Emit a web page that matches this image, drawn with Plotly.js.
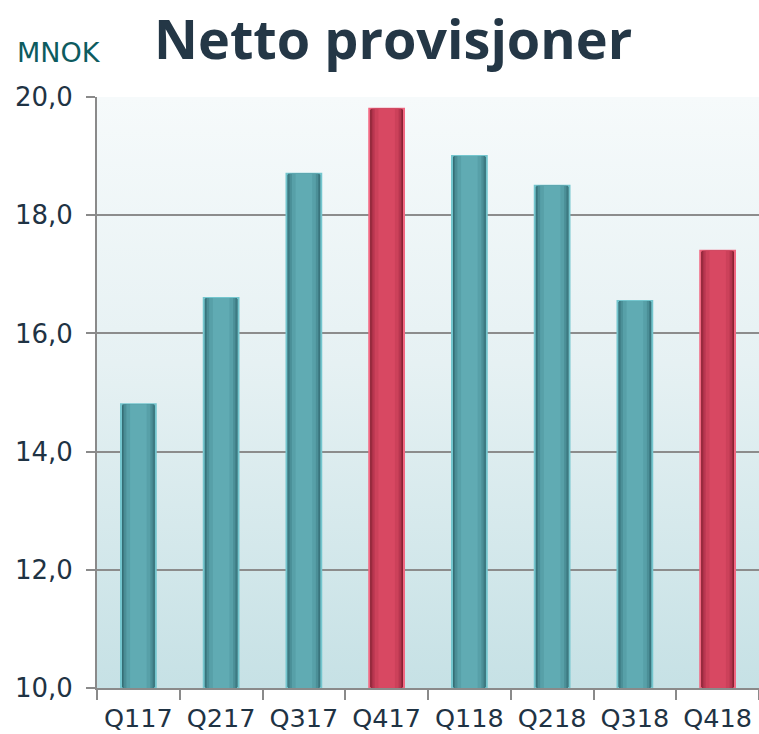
<!DOCTYPE html>
<html>
<head>
<meta charset="utf-8">
<script src="https://cdn.plot.ly/plotly-3.0.1.min.js"></script>
<style>
html,body{margin:0;padding:0;background:#fff;}
#wrap{position:relative;width:759px;height:734px;}
#bg{position:absolute;left:97px;top:97px;width:662px;height:591px;
background:linear-gradient(to bottom,#f6fafb 0%,#e6f1f3 45%,#c6e1e5 100%);}
#chart{position:absolute;left:0;top:0;width:759px;height:734px;}
</style>
</head>
<body>
<div id="wrap"><div id="bg"></div><div id="chart"></div></div>
<script>
const quarters = ['Q117','Q217','Q317','Q417','Q118','Q218','Q318','Q418'];
const values = [14.8, 16.6, 18.7, 19.8, 19.0, 18.5, 16.55, 17.4];
const highlight = [false, false, false, true, false, false, false, true];
const yTicks = [10, 12, 14, 16, 18, 20];
const yTickText = ['10,0', '12,0', '14,0', '16,0', '18,0', '20,0'];
const axisMin = 10;

const teal = {line:'#74c6ce', l0:'#2c5f66', l1:'#3d7a82', l2:'#4b8f97', l3:'#57a0a8', l4:'#60abb3'};
const red  = {line:'#f26882', l0:'#741a28', l1:'#9a2a3e', l2:'#b83650', l3:'#cc415a', l4:'#d84862'};
const pal = highlight.map(h => h ? red : teal);

const layers = [
  {w:0.42, key:'l0', outline:true},
  {w:0.385, key:'l1'},
  {w:0.345, key:'l2'},
  {w:0.29, key:'l3'},
  {w:0.2, key:'l4'}
];
const traces = layers.map(L => ({
  type:'bar', x:quarters, y:values.map(v => v - axisMin), width:L.w,
  marker:{color:pal.map(p=>p[L.key]),
          line:{color:L.outline ? pal.map(p=>p.line) : 'rgba(0,0,0,0)', width:L.outline?2:0}},
  hoverinfo:'skip', showlegend:false
}));

const layout = {
  width:759, height:734,
  margin:{l:97, r:0, t:97, b:46},
  paper_bgcolor:'rgba(0,0,0,0)', plot_bgcolor:'rgba(0,0,0,0)',
  barmode:'overlay',
  font:{family:'"DejaVu Sans", sans-serif', color:'#1f3344'},
  title:{text:'<b>Netto provisjoner</b>', x:0.518, xanchor:'center', y:0.945, yanchor:'middle',
         font:{family:'"Open Sans", sans-serif', size:54, color:'#243746'}},
  xaxis:{type:'category', showline:true, linecolor:'#8a8a8a', linewidth:2,
         ticks:'outside', ticklen:10, tickcolor:'#8a8a8a', tickwidth:2,
         tickson:'boundaries', showgrid:false, ticklabelstandoff:6,
         tickfont:{size:25.5, color:'#1f3344'}, fixedrange:true},
  yaxis:{range:[0, 10], tickvals:yTicks.map(v => v - axisMin), ticktext:yTickText,
         showline:true, linecolor:'#8a8a8a', linewidth:2,
         ticks:'outside', ticklen:9, tickcolor:'#8a8a8a', tickwidth:2,
         showgrid:true, gridcolor:'#8c8c8c', gridwidth:2, zeroline:false,
         ticklabelstandoff:8,
         tickfont:{size:26, color:'#1f3344'}, fixedrange:true},
  annotations:[{text:'MNOK', xref:'paper', yref:'paper', x:-0.124, y:1.076,
                xanchor:'left', yanchor:'middle', showarrow:false,
                font:{size:27, color:'#0d5b5f'}}]
};

Plotly.newPlot('chart', traces, layout, {displayModeBar:false, staticPlot:true});
</script>
</body>
</html>
